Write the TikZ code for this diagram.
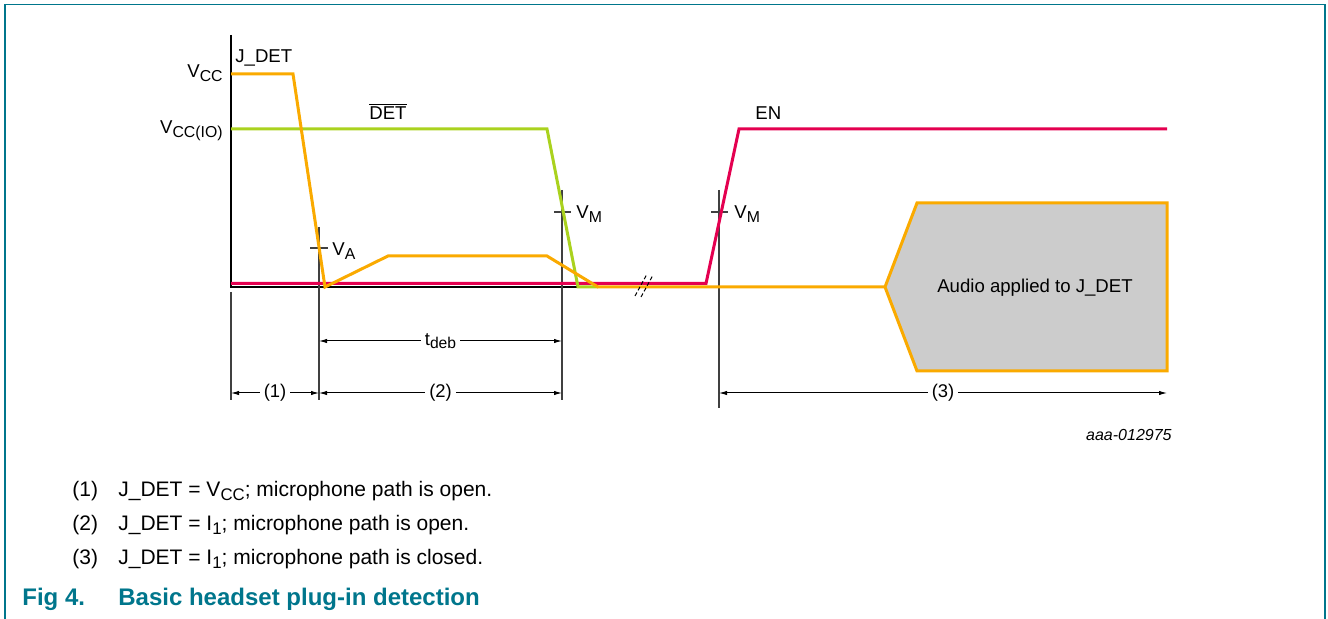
\documentclass[tikz,border=0pt]{standalone}
\usepackage{fontspec}
\usepackage{graphicx}
\setmainfont{Liberation Sans}
\usetikzlibrary{arrows.meta}
\definecolor{jorange}{RGB}{250,170,0}
\definecolor{detgreen}{RGB}{170,210,30}
\definecolor{enpink}{RGB}{228,0,80}
\definecolor{nxpteal}{RGB}{0,118,140}
\definecolor{boxgray}{RGB}{204,204,204}
\newcommand\lsub[1]{\raisebox{-0.35ex}{\scalebox{0.85}{#1}}}
\newcommand\nsub[1]{\raisebox{-0.35ex}{\scalebox{0.8}{#1}}}
\begin{document}
\begin{tikzpicture}[x=0.5pt,y=-0.5pt,
  sig/.style={line width=1.5pt, line join=miter},
  jdet/.style={sig, draw=jorange},
  detl/.style={sig, draw=detgreen},
  enl/.style={sig, draw=enpink},
  axisl/.style={draw=black, line width=0.6pt},
  extl/.style={draw=black!75, line width=0.55pt},
  diml/.style={draw=black, line width=0.5pt, {Latex[length=4pt,width=2.2pt]}-{Latex[length=4pt,width=2.2pt]}},
  dimlab/.style={fill=white, inner sep=2pt, font=\fontsize{9.2}{10}\selectfont},
  lab/.style={inner sep=0pt, font=\fontsize{9.3}{10}\selectfont},
  note/.style={inner sep=0pt, anchor=base west, font=\fontsize{10.5}{12}\selectfont},
  figcap/.style={inner sep=0pt, anchor=base west, text=nxpteal, font=\fontsize{12}{14}\selectfont\bfseries}]
\useasboundingbox (0,0) rectangle (1328,619);
% frame
\draw[nxpteal, line width=0.9pt] (5,619) -- (5,4.5) -- (1325,4.5) -- (1325,619);
% axes
\draw[axisl] (231,35) -- (231,287) -- (600,287);
% extension lines
\draw[extl] (231,292) -- (231,400);
\draw[extl] (319,227) -- (319,400);
\draw[extl] (562,190) -- (562,400);
\draw[extl] (719,190) -- (719,408);
% ticks
\draw[extl] (310,248) -- (328,248);
\draw[extl] (554,212) -- (571,212);
\draw[extl] (711,212) -- (728,212);
% signals
\draw[enl] (231,283.5) -- (706,283.5) -- (739,129) -- (1167,129);
\draw[detl] (231,129) -- (547,129) -- (578,287) -- (598,287);
\draw[jdet] (231,74) -- (293,74) -- (325,287) -- (388,256) -- (547,256) -- (598,287) -- (885,287);
\draw[jdet, fill=boxgray] (885,287) -- (917,203) -- (1167,203) -- (1167,371) -- (917,371) -- cycle;
\node[lab] (audio) at (1035,288) {Audio applied to J\_DET};
% break mark
\draw[black, line width=0.5pt, dash pattern=on 2pt off 1.2pt] (635,296) -- (647,274);
\draw[black, line width=0.5pt, dash pattern=on 2pt off 1.2pt] (641,297) -- (653,275);
% level labels
\node[lab, anchor=base east] (vcc) at (223,78) {V\lsub{CC}};
\node[lab, anchor=base east] (vccio) at (223,134) {V\lsub{CC(IO)}};
\node[lab, anchor=base west] (jdetl) at (235,63) {J\_DET};
\node[lab, anchor=base west] (detlab) at (369,120) {$\overline{\hbox{DET}}$};
\node[lab, anchor=base west] (enlab) at (755,120) {EN};
\node[lab, anchor=base west] (va) at (332,256) {V\lsub{A}};
\node[lab, anchor=base west] (vm1) at (576,219) {V\lsub{M}};
\node[lab, anchor=base west] (vm2) at (734,219) {V\lsub{M}};
% dimensions
\coordinate (d1a) at (231,393); \coordinate (d1b) at (319,393);
\coordinate (d2b) at (562,393);
\coordinate (tda) at (319,341); \coordinate (tdb) at (562,341);
\coordinate (d3a) at (719,393); \coordinate (d3b) at (1167,393);
\draw[diml] (tda) -- (tdb) node[dimlab, midway] (tdeb) {t\lsub{deb}};
\draw[diml] (d1a) -- (d1b) node[dimlab, midway] (p1) {(1)};
\draw[diml] (d1b) -- (d2b) node[dimlab, midway] (p2) {(2)};
\draw[diml] (d3a) -- (d3b) node[dimlab, midway] (p3) {(3)};
% id
\node[inner sep=0pt, anchor=base east, font=\fontsize{8}{9}\selectfont\itshape] (figid) at (1172,441) {aaa-012975};
% notes
\node[note] (n1) at (72,497) {(1)};
\node[note] (t1) at (118,497) {J\_DET = V\nsub{CC}; microphone path is open.};
\node[note] (n2) at (72,531) {(2)};
\node[note] (t2) at (118,531) {J\_DET = I\nsub{1}; microphone path is open.};
\node[note] (n3) at (72,565) {(3)};
\node[note] (t3) at (118,565) {J\_DET = I\nsub{1}; microphone path is closed.};
\node[figcap] (fig) at (22,606) {Fig 4.};
\node[figcap] (figt) at (118,606) {Basic headset plug-in detection};
\end{tikzpicture}
\end{document}
